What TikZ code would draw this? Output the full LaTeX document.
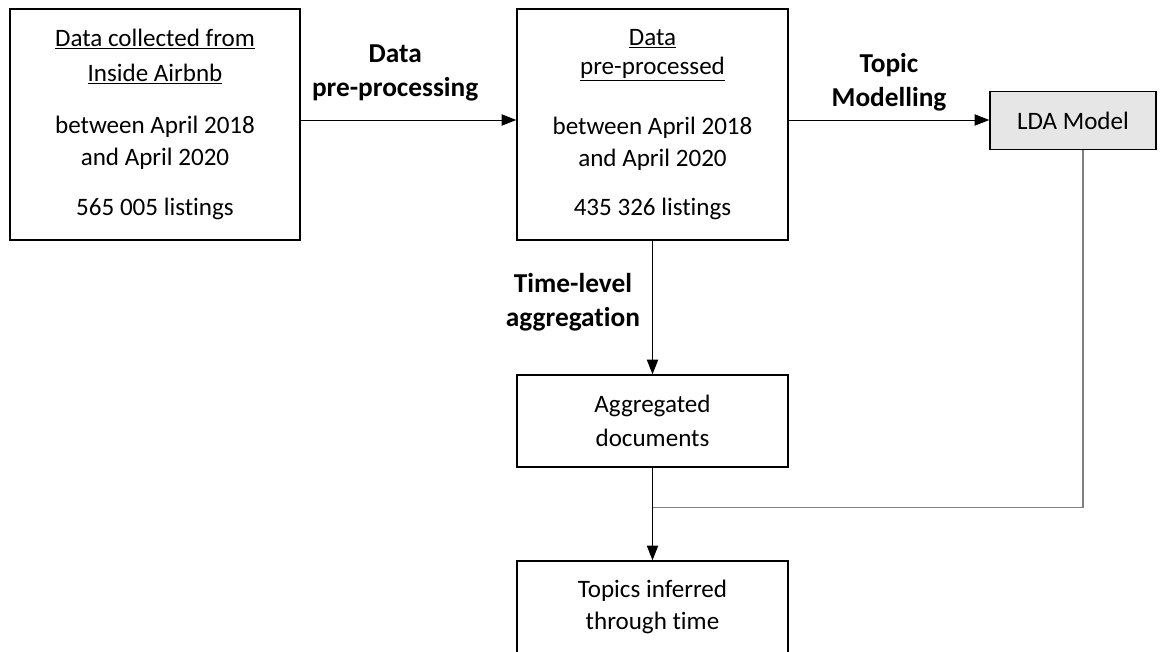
\documentclass[tikz,border=0pt]{standalone}
\usepackage{fontspec}
\setmainfont{Carlito}[Ligatures={NoCommon,NoContextual}]
\usepackage{tikz}
\usepackage{xcolor}
\usetikzlibrary{arrows.meta, positioning, calc}
\definecolor{modelGray}{RGB}{231,230,230}
\definecolor{linkGray}{RGB}{128,128,128}
\definecolor{darkText}{RGB}{0,0,0}
\tikzset{
    databox/.style={
        rectangle,
        draw=darkText,
        line width=1.1pt,
        align=center,
        fill=white,
        inner sep=0pt,
        font=\fontsize{18.8}{24}\selectfont
    },
    modelbox/.style={
        databox,
        fill=modelGray
    },
    steplabel/.style={align=center, inner sep=0pt, font=\fontsize{20.5}{25.5}\selectfont\bfseries},
    flowarrow/.style={-{Triangle[length=11pt,width=8.5pt]}, line width=0.7pt, draw=darkText},
    feedline/.style={line width=0.9pt, draw=linkGray}
}

\begin{document}
\begin{tikzpicture}[x=0.75pt,y=-0.75pt]
        \useasboundingbox (0,0) rectangle (1160,652);

        \node[databox, minimum width=217.5pt, minimum height=173.25pt] (raw) at (155,124.5)
            {\underline{Data collected from}\\[2pt]\underline{Inside Airbnb}\\[15pt]between April 2018\\and April 2020\\[14pt]565 005 listings};
        \node[databox, minimum width=203.25pt, minimum height=173.25pt] (clean) at (652.5,124.5)
            {\underline{Data}\\[-2pt]\underline{pre-processed}\\[21pt]between April 2018\\and April 2020\\[13pt]435 326 listings};
        \node[modelbox, minimum width=124.5pt, minimum height=43.5pt] (lda) at (1073,120.5) {LDA Model};
        \node[databox, minimum width=203.25pt, minimum height=69pt] (agg) at (652.5,421) {Aggregated\\[2pt]documents};
        \node[databox, minimum width=203.25pt, minimum height=69pt] (topics) at (652.5,607) {Topics inferred\\through time};

        \draw[flowarrow] (raw.east |- 0,120) -- node[steplabel, above=14pt, xshift=-10pt]{Data\\pre-processing} (clean.west |- 0,120);
        \draw[flowarrow] (clean.east |- 0,120) -- node[steplabel, above=6pt]{Topic\\Modelling} (lda.west |- 0,120);
        \draw[flowarrow] (clean.south) -- node[steplabel, left=9pt, yshift=4pt]{Time-level\\aggregation} (agg.north);
        \draw[flowarrow] (agg.south) -- (topics.north);

        \coordinate (merge) at ($(agg.south)!0.43!(topics.north)$);
        \draw[feedline] ([xshift=7.5pt]lda.south) |- (merge);
    \end{tikzpicture}
\end{document}
